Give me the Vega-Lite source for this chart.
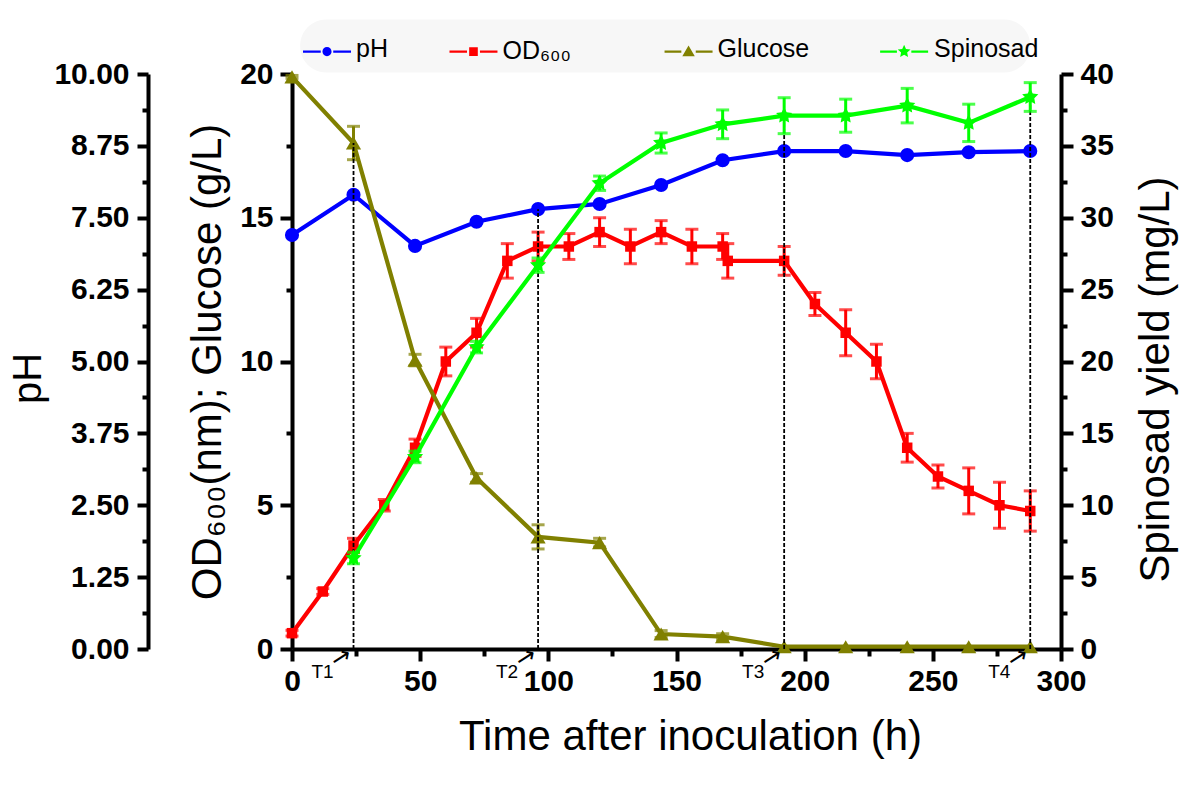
{
  "$schema": "https://vega.github.io/schema/vega-lite/v6.json",
  "width": 769,
  "height": 575,
  "autosize": {"type": "none"},
  "padding": {"left": 292, "top": 74, "right": 139, "bottom": 142},
  "background": "white",
  "config": {
    "font": "Liberation Sans",
    "view": {"stroke": null},
    "axis": {
      "grid": false,
      "domainColor": "black",
      "domainWidth": 4,
      "tickColor": "black",
      "tickWidth": 4,
      "labelFont": "Liberation Sans",
      "labelFontWeight": "bold",
      "labelFontSize": 30,
      "labelColor": "black",
      "labelFlush": false,
      "labelOverlap": false,
      "labelBound": false,
      "titleFont": "Liberation Sans",
      "titleFontWeight": "normal",
      "titleFontSize": 42,
      "titleColor": "black",
      "zindex": 1
    }
  },
  "datasets": {
    "series": [
      {"s": "pH", "t": 0, "v": 7.2},
      {"s": "pH", "t": 24, "v": 7.9},
      {"s": "pH", "t": 48, "v": 7.01},
      {"s": "pH", "t": 72, "v": 7.43},
      {"s": "pH", "t": 96, "v": 7.65},
      {"s": "pH", "t": 120, "v": 7.74},
      {"s": "pH", "t": 144, "v": 8.07},
      {"s": "pH", "t": 168, "v": 8.5},
      {"s": "pH", "t": 192, "v": 8.66},
      {"s": "pH", "t": 216, "v": 8.66},
      {"s": "pH", "t": 240, "v": 8.59},
      {"s": "pH", "t": 264, "v": 8.64},
      {"s": "pH", "t": 288, "v": 8.66},
      {"s": "OD₆₀₀", "t": 0, "v": 0.55, "e": 0.1},
      {"s": "OD₆₀₀", "t": 12, "v": 2.0, "e": 0.1},
      {"s": "OD₆₀₀", "t": 24, "v": 3.6, "e": 0.25},
      {"s": "OD₆₀₀", "t": 36, "v": 5.0, "e": 0.2},
      {"s": "OD₆₀₀", "t": 48, "v": 7.0, "e": 0.3},
      {"s": "OD₆₀₀", "t": 60, "v": 10.0, "e": 0.5},
      {"s": "OD₆₀₀", "t": 72, "v": 11.0, "e": 0.5},
      {"s": "OD₆₀₀", "t": 84, "v": 13.5, "e": 0.6},
      {"s": "OD₆₀₀", "t": 96, "v": 14.0, "e": 0.5},
      {"s": "OD₆₀₀", "t": 108, "v": 14.0, "e": 0.45},
      {"s": "OD₆₀₀", "t": 120, "v": 14.5, "e": 0.5},
      {"s": "OD₆₀₀", "t": 132, "v": 14.0, "e": 0.6},
      {"s": "OD₆₀₀", "t": 144, "v": 14.5, "e": 0.4},
      {"s": "OD₆₀₀", "t": 156, "v": 14.0, "e": 0.6},
      {"s": "OD₆₀₀", "t": 168, "v": 14.0, "e": 0.45},
      {"s": "OD₆₀₀", "t": 170, "v": 13.5, "e": 0.6},
      {"s": "OD₆₀₀", "t": 192, "v": 13.5, "e": 0.5},
      {"s": "OD₆₀₀", "t": 204, "v": 12.0, "e": 0.4},
      {"s": "OD₆₀₀", "t": 216, "v": 11.0, "e": 0.8},
      {"s": "OD₆₀₀", "t": 228, "v": 10.0, "e": 0.6},
      {"s": "OD₆₀₀", "t": 240, "v": 7.0, "e": 0.5},
      {"s": "OD₆₀₀", "t": 252, "v": 6.0, "e": 0.4},
      {"s": "OD₆₀₀", "t": 264, "v": 5.5, "e": 0.8},
      {"s": "OD₆₀₀", "t": 276, "v": 5.0, "e": 0.8},
      {"s": "OD₆₀₀", "t": 288, "v": 4.8, "e": 0.7},
      {"s": "Glucose", "t": 0, "v": 19.9, "e": 0.05},
      {"s": "Glucose", "t": 24, "v": 17.6, "e": 0.58},
      {"s": "Glucose", "t": 48, "v": 10.05, "e": 0.2},
      {"s": "Glucose", "t": 72, "v": 5.95, "e": 0.15},
      {"s": "Glucose", "t": 96, "v": 3.9, "e": 0.42},
      {"s": "Glucose", "t": 120, "v": 3.7, "e": 0.15},
      {"s": "Glucose", "t": 144, "v": 0.52, "e": 0.12},
      {"s": "Glucose", "t": 168, "v": 0.43, "e": 0.1},
      {"s": "Glucose", "t": 192, "v": 0.08},
      {"s": "Glucose", "t": 216, "v": 0.08},
      {"s": "Glucose", "t": 240, "v": 0.08},
      {"s": "Glucose", "t": 264, "v": 0.08},
      {"s": "Glucose", "t": 288, "v": 0.08},
      {"s": "Spinosad", "t": 24, "v": 6.33, "e": 0.4},
      {"s": "Spinosad", "t": 48, "v": 13.36, "e": 0.4},
      {"s": "Spinosad", "t": 72, "v": 21.0, "e": 0.4},
      {"s": "Spinosad", "t": 96, "v": 26.7, "e": 0.5},
      {"s": "Spinosad", "t": 120, "v": 32.4, "e": 0.5},
      {"s": "Spinosad", "t": 144, "v": 35.2, "e": 0.7},
      {"s": "Spinosad", "t": 168, "v": 36.5, "e": 1.0},
      {"s": "Spinosad", "t": 192, "v": 37.1, "e": 1.25},
      {"s": "Spinosad", "t": 216, "v": 37.1, "e": 1.15},
      {"s": "Spinosad", "t": 240, "v": 37.8, "e": 1.2},
      {"s": "Spinosad", "t": 264, "v": 36.6, "e": 1.3},
      {"s": "Spinosad", "t": 288, "v": 38.4, "e": 1.0}
    ],
    "phases": [
      {"t": 24, "bot": 0, "top": 17.6, "lab": "T1"},
      {"t": 96, "bot": 0, "top": 15.3, "lab": "T2"},
      {"t": 192, "bot": 0, "top": 18.55, "lab": "T3"},
      {"t": 288, "bot": 0, "top": 19.2, "lab": "T4"}
    ],
    "one": [{"k": 1}]
  },
  "resolve": {"scale": {"x": "independent", "y": "independent"}, "axis": {"x": "independent", "y": "independent"}},
  "layer": [
    {
      "data": {"name": "one"},
      "mark": {"type": "rect", "color": "#f7f7f7", "cornerRadius": 26},
      "encoding": {
        "x": {"datum": 3.2, "type": "quantitative", "scale": {"domain": [0, 300], "nice": false, "zero": false}, "axis": null},
        "x2": {"datum": 288},
        "y": {"datum": 21.9, "type": "quantitative", "scale": {"domain": [0, 20], "nice": false, "zero": false}, "axis": null},
        "y2": {"datum": 20.05}
      }
    },
    {
      "data": {"name": "series"},
      "transform": [{"filter": "datum.s === 'pH'"}],
      "mark": {"type": "line", "strokeWidth": 4.2},
      "encoding": {
        "x": {"field": "t", "type": "quantitative", "scale": {"domain": [0, 300], "nice": false, "zero": false}, "axis": null},
        "y": {"field": "v", "type": "quantitative", "scale": {"domain": [0, 10], "nice": false, "zero": false},
              "axis": {"orient": "left", "offset": 144, "values": [0, 1.25, 2.5, 3.75, 5, 6.25, 7.5, 8.75, 10], "format": ".2f", "tickSize": 11, "labelPadding": 8, "title": "pH", "titleFontSize": 40, "titlePadding": 5, "titleY": 304}},
        "color": {"field": "s", "type": "nominal", "scale": {"domain": ["pH", "OD₆₀₀", "Glucose", "Spinosad"], "range": ["#0000ff", "#ff0000", "#808000", "#00ff00"]}, "legend": null}
      }
    },
    {
      "data": {"name": "series"},
      "transform": [{"filter": "datum.s === 'pH'"}],
      "mark": {"type": "point", "filled": true, "shape": "circle", "size": 200, "opacity": 1},
      "encoding": {
        "x": {"field": "t", "type": "quantitative", "scale": {"domain": [0, 300], "nice": false, "zero": false}, "axis": null},
        "y": {"field": "v", "type": "quantitative", "scale": {"domain": [0, 10], "nice": false, "zero": false},
              "axis": {"orient": "left", "offset": 144, "values": [0.625, 1.875, 3.125, 4.375, 5.625, 6.875, 8.125, 9.375], "labels": false, "domain": false, "tickSize": 6, "title": null}},
        "color": {"field": "s", "type": "nominal", "scale": {"domain": ["pH", "OD₆₀₀", "Glucose", "Spinosad"], "range": ["#0000ff", "#ff0000", "#808000", "#00ff00"]}, "legend": null}
      }
    },
    {
      "data": {"name": "series"},
      "transform": [{"filter": "datum.s === 'OD₆₀₀' || datum.s === 'Glucose'"}],
      "mark": {"type": "line", "strokeWidth": 4.2},
      "encoding": {
        "x": {"field": "t", "type": "quantitative", "scale": {"domain": [0, 300], "nice": false, "zero": false},
              "axis": {"orient": "bottom", "values": [0, 50, 100, 150, 200, 250, 300], "tickSize": 12, "labelPadding": 5, "title": "Time after inoculation (h)", "titlePadding": 20, "titleX": 398}},
        "y": {"field": "v", "type": "quantitative", "scale": {"domain": [0, 20], "nice": false, "zero": false},
              "axis": {"orient": "left", "values": [0, 5, 10, 15, 20], "tickSize": 12, "labelPadding": 7, "title": "OD₆₀₀(nm); Glucose (g/L)", "titlePadding": 10}},
        "color": {"field": "s", "type": "nominal", "scale": {"domain": ["pH", "OD₆₀₀", "Glucose", "Spinosad"], "range": ["#0000ff", "#ff0000", "#808000", "#00ff00"]}, "legend": null}
      }
    },
    {
      "data": {"name": "series"},
      "transform": [{"filter": "(datum.s === 'OD₆₀₀' || datum.s === 'Glucose') && isValid(datum.e)"}],
      "mark": {"type": "errorbar", "ticks": true, "size": 13, "thickness": 3},
      "encoding": {
        "x": {"field": "t", "type": "quantitative", "scale": {"domain": [0, 300], "nice": false, "zero": false}, "axis": null},
        "y": {"field": "v", "type": "quantitative", "scale": {"domain": [0, 20], "nice": false, "zero": false}, "axis": null},
        "yError": {"field": "e"},
        "color": {"field": "s", "type": "nominal", "scale": {"domain": ["pH", "OD₆₀₀", "Glucose", "Spinosad"], "range": ["#0000ff", "#ff0000", "#808000", "#00ff00"]}, "legend": null}
      }
    },
    {
      "data": {"name": "series"},
      "transform": [{"filter": "datum.s === 'OD₆₀₀'"}],
      "mark": {"type": "point", "filled": true, "shape": "square", "size": 110, "opacity": 1},
      "encoding": {
        "x": {"field": "t", "type": "quantitative", "scale": {"domain": [0, 300], "nice": false, "zero": false},
              "axis": {"orient": "bottom", "values": [25, 75, 125, 175, 225, 275], "labels": false, "domain": false, "tickSize": 7, "title": null}},
        "y": {"field": "v", "type": "quantitative", "scale": {"domain": [0, 20], "nice": false, "zero": false},
              "axis": {"orient": "left", "values": [2.5, 7.5, 12.5, 17.5], "labels": false, "domain": false, "tickSize": 6, "title": null}},
        "color": {"field": "s", "type": "nominal", "scale": {"domain": ["pH", "OD₆₀₀", "Glucose", "Spinosad"], "range": ["#0000ff", "#ff0000", "#808000", "#00ff00"]}, "legend": null}
      }
    },
    {
      "data": {"name": "series"},
      "transform": [{"filter": "datum.s === 'Glucose'"}],
      "mark": {"type": "point", "filled": true, "shape": "triangle-up", "size": 230, "opacity": 1},
      "encoding": {
        "x": {"field": "t", "type": "quantitative", "scale": {"domain": [0, 300], "nice": false, "zero": false}, "axis": null},
        "y": {"field": "v", "type": "quantitative", "scale": {"domain": [0, 20], "nice": false, "zero": false}, "axis": null},
        "color": {"field": "s", "type": "nominal", "scale": {"domain": ["pH", "OD₆₀₀", "Glucose", "Spinosad"], "range": ["#0000ff", "#ff0000", "#808000", "#00ff00"]}, "legend": null}
      }
    },
    {
      "data": {"name": "phases"},
      "mark": {"type": "rule", "color": "black", "strokeWidth": 1.8, "strokeDash": [4, 2]},
      "encoding": {
        "x": {"field": "t", "type": "quantitative", "scale": {"domain": [0, 300], "nice": false, "zero": false}, "axis": null},
        "y": {"field": "bot", "type": "quantitative", "scale": {"domain": [0, 20], "nice": false, "zero": false}, "axis": null},
        "y2": {"field": "top"}
      }
    },
    {
      "data": {"name": "phases"},
      "mark": {"type": "text", "font": "Liberation Sans", "fontSize": 19, "color": "black", "dx": -31, "dy": 23, "align": "center", "baseline": "middle"},
      "encoding": {
        "x": {"field": "t", "type": "quantitative", "scale": {"domain": [0, 300], "nice": false, "zero": false}, "axis": null},
        "y": {"field": "bot", "type": "quantitative", "scale": {"domain": [0, 20], "nice": false, "zero": false}, "axis": null},
        "text": {"field": "lab", "type": "nominal"}
      }
    },
    {
      "data": {"name": "phases"},
      "mark": {"type": "text", "text": "→", "font": "DejaVu Sans", "fontSize": 24, "color": "black", "angle": -33, "dx": -15, "dy": 1, "align": "center", "baseline": "middle"},
      "encoding": {
        "x": {"field": "t", "type": "quantitative", "scale": {"domain": [0, 300], "nice": false, "zero": false}, "axis": null},
        "y": {"field": "bot", "type": "quantitative", "scale": {"domain": [0, 20], "nice": false, "zero": false}, "axis": null}
      }
    },
    {
      "data": {"name": "series"},
      "transform": [{"filter": "datum.s === 'Spinosad'"}],
      "mark": {"type": "line", "strokeWidth": 4.2},
      "encoding": {
        "x": {"field": "t", "type": "quantitative", "scale": {"domain": [0, 300], "nice": false, "zero": false}, "axis": null},
        "y": {"field": "v", "type": "quantitative", "scale": {"domain": [0, 40], "nice": false, "zero": false},
              "axis": {"orient": "right", "values": [0, 5, 10, 15, 20, 25, 30, 35, 40], "tickSize": 12, "labelPadding": 7, "title": "Spinosad yield (mg/L)", "titleAngle": 270, "titleBaseline": "top", "titlePadding": 22, "titleY": 305}},
        "color": {"field": "s", "type": "nominal", "scale": {"domain": ["pH", "OD₆₀₀", "Glucose", "Spinosad"], "range": ["#0000ff", "#ff0000", "#808000", "#00ff00"]}, "legend": null}
      }
    },
    {
      "data": {"name": "series"},
      "transform": [{"filter": "datum.s === 'Spinosad'"}],
      "mark": {"type": "errorbar", "ticks": true, "size": 13, "thickness": 3},
      "encoding": {
        "x": {"field": "t", "type": "quantitative", "scale": {"domain": [0, 300], "nice": false, "zero": false}, "axis": null},
        "y": {"field": "v", "type": "quantitative", "scale": {"domain": [0, 40], "nice": false, "zero": false}, "axis": null},
        "yError": {"field": "e"},
        "color": {"field": "s", "type": "nominal", "scale": {"domain": ["pH", "OD₆₀₀", "Glucose", "Spinosad"], "range": ["#0000ff", "#ff0000", "#808000", "#00ff00"]}, "legend": null}
      }
    },
    {
      "data": {"name": "series"},
      "transform": [{"filter": "datum.s === 'Spinosad'"}],
      "mark": {"type": "point", "filled": true, "shape": "M0,-1L0.294,-0.405L0.951,-0.309L0.476,0.155L0.588,0.809L0,0.5L-0.588,0.809L-0.476,0.155L-0.951,-0.309L-0.294,-0.405Z", "size": 290, "opacity": 1},
      "encoding": {
        "x": {"field": "t", "type": "quantitative", "scale": {"domain": [0, 300], "nice": false, "zero": false}, "axis": null},
        "y": {"field": "v", "type": "quantitative", "scale": {"domain": [0, 40], "nice": false, "zero": false},
              "axis": {"orient": "right", "values": [2.5, 7.5, 12.5, 17.5, 22.5, 27.5, 32.5, 37.5], "labels": false, "domain": false, "tickSize": 6, "title": null}},
        "color": {"field": "s", "type": "nominal", "scale": {"domain": ["pH", "OD₆₀₀", "Glucose", "Spinosad"], "range": ["#0000ff", "#ff0000", "#808000", "#00ff00"]}, "legend": null}
      }
    },
    {
      "data": {"name": "one"},
      "mark": {"type": "point", "filled": true, "opacity": 1, "strokeWidth": 0, "size": 2304, "color": "#0000ff",
               "shape": "M-1,-0.05H-0.26V0.05H-1ZM0.26,-0.05H1V0.05H0.26ZM-0.19,0A0.19,0.19,0,1,0,0.19,0A0.19,0.19,0,1,0,-0.19,0Z"},
      "encoding": {
        "x": {"datum": 13.65, "type": "quantitative", "scale": {"domain": [0, 300], "nice": false, "zero": false}, "axis": null},
        "y": {"datum": 20.78, "type": "quantitative", "scale": {"domain": [0, 20], "nice": false, "zero": false}, "axis": null}
      }
    },
    {
      "data": {"name": "one"},
      "mark": {"type": "text", "text": "pH", "font": "Liberation Sans", "fontSize": 25, "color": "black", "align": "left", "baseline": "middle", "dx": 29, "dy": -3},
      "encoding": {
        "x": {"datum": 13.65, "type": "quantitative", "scale": {"domain": [0, 300], "nice": false, "zero": false}, "axis": null},
        "y": {"datum": 20.78, "type": "quantitative", "scale": {"domain": [0, 20], "nice": false, "zero": false}, "axis": null}
      }
    },
    {
      "data": {"name": "one"},
      "mark": {"type": "point", "filled": true, "opacity": 1, "strokeWidth": 0, "size": 2304, "color": "#ff0000",
               "shape": "M-1,-0.05H-0.27V0.05H-1ZM0.27,-0.05H1V0.05H0.27ZM-0.18,-0.18H0.18V0.18H-0.18Z"},
      "encoding": {
        "x": {"datum": 70.8, "type": "quantitative", "scale": {"domain": [0, 300], "nice": false, "zero": false}, "axis": null},
        "y": {"datum": 20.78, "type": "quantitative", "scale": {"domain": [0, 20], "nice": false, "zero": false}, "axis": null}
      }
    },
    {
      "data": {"name": "one"},
      "mark": {"type": "text", "text": "OD₆₀₀", "font": "Liberation Sans", "fontSize": 25, "color": "black", "align": "left", "baseline": "middle", "dx": 29, "dy": -1},
      "encoding": {
        "x": {"datum": 70.8, "type": "quantitative", "scale": {"domain": [0, 300], "nice": false, "zero": false}, "axis": null},
        "y": {"datum": 20.78, "type": "quantitative", "scale": {"domain": [0, 20], "nice": false, "zero": false}, "axis": null}
      }
    },
    {
      "data": {"name": "one"},
      "mark": {"type": "point", "filled": true, "opacity": 1, "strokeWidth": 0, "size": 2304, "color": "#808000",
               "shape": "M-1,-0.05H-0.3V0.05H-1ZM0.3,-0.05H1V0.05H0.3ZM0,-0.25L0.26,0.19H-0.26Z"},
      "encoding": {
        "x": {"datum": 154.7, "type": "quantitative", "scale": {"domain": [0, 300], "nice": false, "zero": false}, "axis": null},
        "y": {"datum": 20.78, "type": "quantitative", "scale": {"domain": [0, 20], "nice": false, "zero": false}, "axis": null}
      }
    },
    {
      "data": {"name": "one"},
      "mark": {"type": "text", "text": "Glucose", "font": "Liberation Sans", "fontSize": 25, "color": "black", "align": "left", "baseline": "middle", "dx": 29, "dy": -3},
      "encoding": {
        "x": {"datum": 154.7, "type": "quantitative", "scale": {"domain": [0, 300], "nice": false, "zero": false}, "axis": null},
        "y": {"datum": 20.78, "type": "quantitative", "scale": {"domain": [0, 20], "nice": false, "zero": false}, "axis": null}
      }
    },
    {
      "data": {"name": "one"},
      "mark": {"type": "point", "filled": true, "opacity": 1, "strokeWidth": 0, "size": 2304, "color": "#00ff00",
               "shape": "M-1,-0.05H-0.3V0.05H-1ZM0.3,-0.05H1V0.05H0.3ZM0,-0.28L0.078,-0.107L0.266,-0.087L0.126,0.041L0.165,0.227L0,0.13L-0.165,0.227L-0.126,0.041L-0.266,-0.087L-0.078,-0.107Z"},
      "encoding": {
        "x": {"datum": 238.8, "type": "quantitative", "scale": {"domain": [0, 300], "nice": false, "zero": false}, "axis": null},
        "y": {"datum": 20.78, "type": "quantitative", "scale": {"domain": [0, 20], "nice": false, "zero": false}, "axis": null}
      }
    },
    {
      "data": {"name": "one"},
      "mark": {"type": "text", "text": "Spinosad", "font": "Liberation Sans", "fontSize": 25, "color": "black", "align": "left", "baseline": "middle", "dx": 30, "dy": -3},
      "encoding": {
        "x": {"datum": 238.8, "type": "quantitative", "scale": {"domain": [0, 300], "nice": false, "zero": false}, "axis": null},
        "y": {"datum": 20.78, "type": "quantitative", "scale": {"domain": [0, 20], "nice": false, "zero": false}, "axis": null}
      }
    }
  ]
}
